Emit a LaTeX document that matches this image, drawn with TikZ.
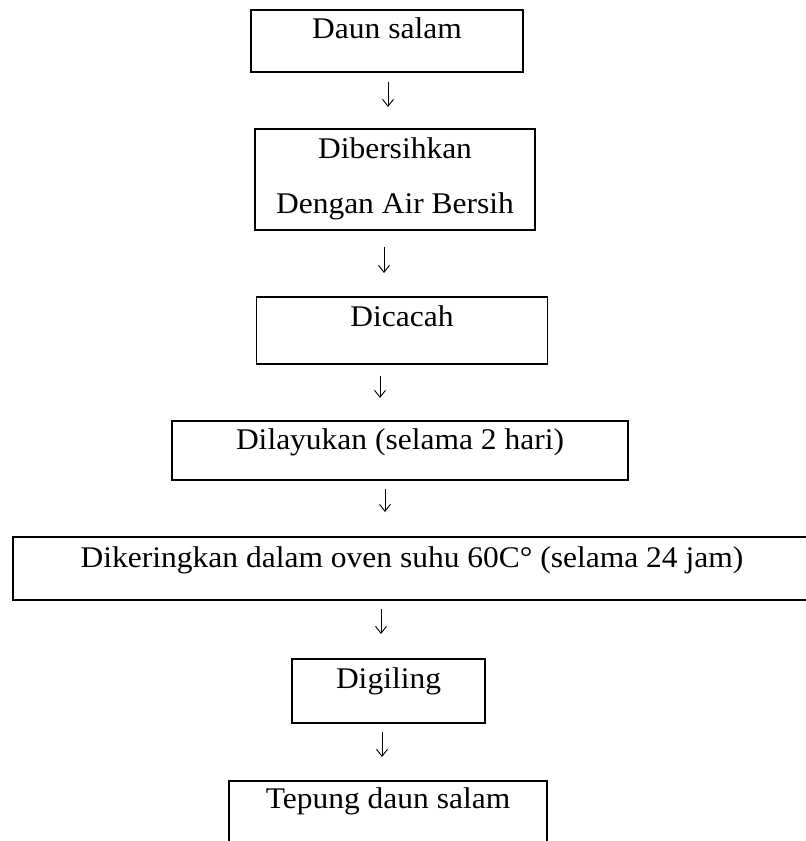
\documentclass[tikz,border=0pt]{standalone}
\usepackage{fontspec}
\setmainfont{Liberation Serif}[FakeStretch=1.05]
\usetikzlibrary{arrows.meta}
\tikzset{
  stepbox/.style={draw, line width=1.5pt, inner sep=0pt, anchor=north,
    font=\fontsize{30pt}{36pt}\selectfont},
  arr/.style={line width=0.9pt, -{Straight Barb[length=7pt,width=11pt,line width=0.9pt]}}
}
\begin{document}
\begin{tikzpicture}
\clip (0pt,0pt) rectangle (806pt,-841pt);
\fill[white] (0pt,0pt) rectangle (806pt,-841pt);

\node[stepbox, minimum width=272pt, text height=29pt, text depth=33pt] (b1) at (387pt,-9pt) {Daun salam};
\node[stepbox, minimum width=280pt, text height=30pt, text depth=71pt] (b2) at (395pt,-128pt)
  {\parbox[t]{270pt}{\centering\baselineskip=55pt Dibersihkan\\Dengan Air Bersih}};
\node[stepbox, minimum width=291pt, text height=30pt, text depth=37pt] (b3) at (402pt,-296pt) {Dicacah};
\node[stepbox, minimum width=456pt, text height=29pt, text depth=30pt] (b4) at (400pt,-420pt) {Dilayukan (selama 2 hari)};
\node[stepbox, minimum width=798pt, text height=31pt, text depth=32pt] (b5) at (412pt,-536pt) {Dikeringkan dalam oven suhu 60C° (selama 24 jam)};
\node[stepbox, minimum width=193pt, text height=30pt, text depth=34pt] (b6) at (388.5pt,-658pt) {Digiling};
\node[stepbox, minimum width=318pt, text height=28pt, text depth=72pt] (b7) at (388pt,-780pt) {Tepung daun salam};

\draw[arr, shorten <=9pt, shorten >=21pt] ([xshift=1pt]b1.south) -- ([xshift=1pt]b1.south |- b2.north);
\draw[arr, shorten <=16pt, shorten >=23pt] ([xshift=-11pt]b2.south) -- ([xshift=-11pt]b2.south |- b3.north);
\draw[arr, shorten <=11pt, shorten >=22pt] ([xshift=-22pt]b3.south) -- ([xshift=-22pt]b3.south |- b4.north);
\draw[arr, shorten <=8pt, shorten >=24pt] ([xshift=-15pt]b4.south) -- ([xshift=-15pt]b4.south |- b5.north);
\draw[arr, shorten <=8pt, shorten >=24pt] ([xshift=-31pt]b5.south) -- ([xshift=-31pt]b5.south |- b6.north);
\draw[arr, shorten <=8pt, shorten >=23pt] ([xshift=-6.5pt]b6.south) -- ([xshift=-6.5pt]b6.south |- b7.north);
\end{tikzpicture}
\end{document}
